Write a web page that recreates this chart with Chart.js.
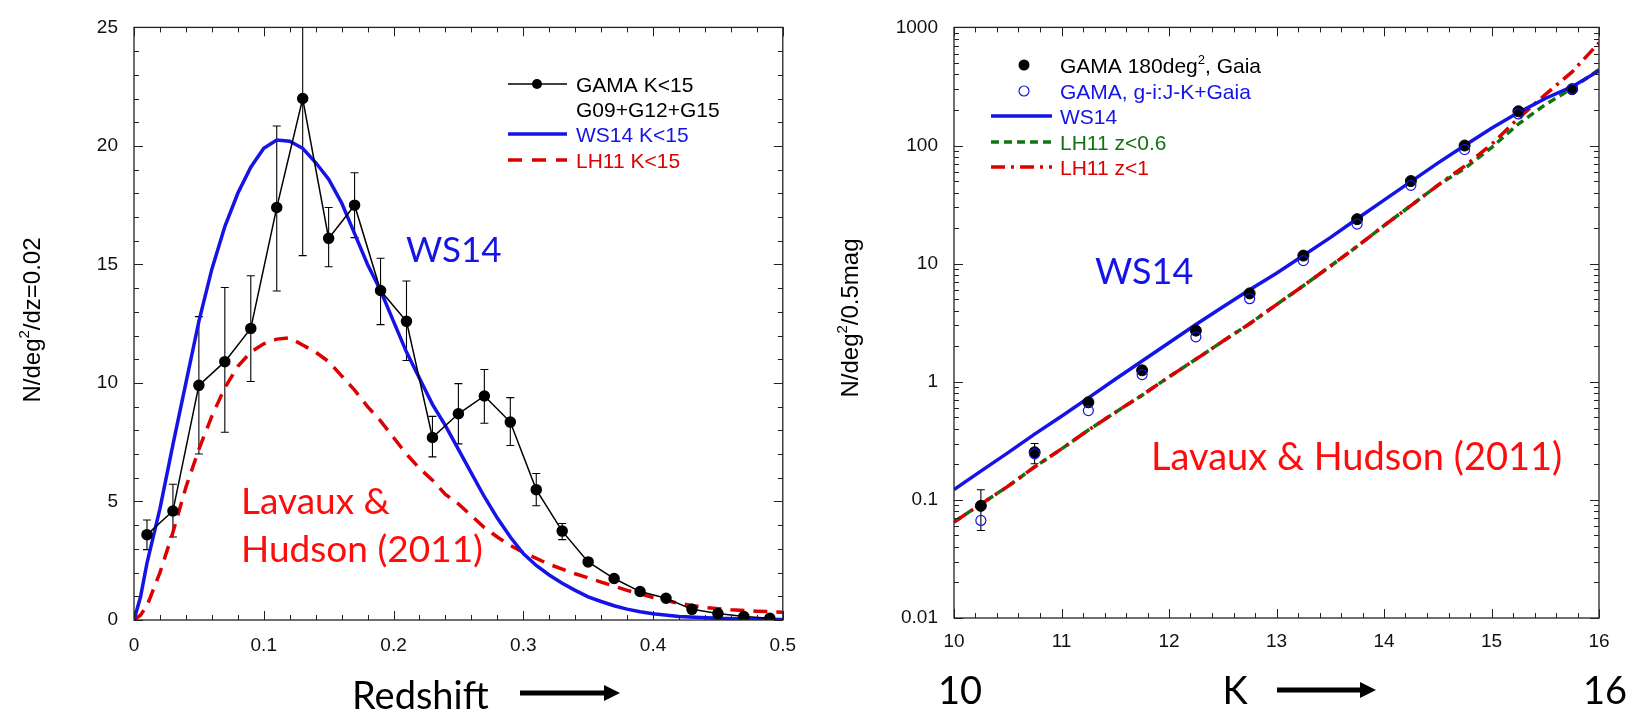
<!DOCTYPE html>
<html lang="en">
<head>
<meta charset="UTF-8">
<title>GAMA K-band redshift distribution and counts</title>
<script src="https://cdn.jsdelivr.net/npm/chart.js@4.4.1/dist/chart.umd.min.js"></script>
<style>
  body { margin: 0; background: #fff; width: 1634px; height: 713px; overflow: hidden; position: relative; }
  canvas { position: absolute; top: 0; }
  #zPanel { left: 0; }
  #kPanel { left: 810px; }
</style>
</head>
<body>
<canvas id="zPanel" width="810" height="713"></canvas>
<canvas id="kPanel" width="824" height="713"></canvas>
<script>
// ---------- left panel : N(z), K<15 ----------
const zGama   = [0.01,0.03,0.05,0.07,0.09,0.11,0.13,0.15,0.17,0.19,0.21,0.23,0.25,0.27,0.29,0.31,0.33,0.35,0.37,0.39,0.41,0.43,0.45,0.47,0.49];
const nGama   = [3.6,4.6,9.9,10.9,12.3,17.4,22.0,16.1,17.5,13.9,12.6,7.7,8.7,9.45,8.35,5.5,3.75,2.45,1.75,1.2,0.92,0.45,0.27,0.15,0.07];
const nGamaLo = [2.97,3.5,7.0,7.92,10.06,13.88,15.37,14.9,16.13,12.46,10.95,6.88,7.43,8.3,7.36,4.82,3.39,2.3,1.62,1.1,0.84,0.39,0.22,0.12,0.05];
const nGamaHi = [4.22,5.73,12.8,14.03,14.52,20.84,28.7,17.4,18.87,15.26,14.3,8.59,9.97,10.57,9.38,6.18,4.07,2.6,1.88,1.3,1.0,0.51,0.32,0.19,0.1];

const zWS14 = [0,0.005,0.01,0.02,0.03,0.04,0.05,0.06,0.07,0.08,0.09,0.10,0.11,0.12,0.13,0.14,0.15,0.16,0.17,0.18,0.19,0.20,0.21,0.22,0.23,0.24,0.25,0.26,0.27,0.28,0.29,0.30,0.31,0.32,0.33,0.34,0.35,0.36,0.37,0.38,0.39,0.40,0.42,0.45,0.48,0.50];
const nWS14 = [0,0.97,2.4,4.7,7.4,10.0,12.6,14.8,16.6,18.0,19.1,19.9,20.25,20.2,19.9,19.3,18.6,17.6,16.3,15.0,13.9,12.6,11.3,10.2,9.1,8.2,7.2,6.2,5.2,4.3,3.5,2.8,2.3,1.9,1.55,1.25,0.98,0.78,0.6,0.46,0.35,0.26,0.15,0.07,0.03,0.02];

const zLH11 = [0,0.005,0.01,0.02,0.03,0.04,0.05,0.06,0.07,0.08,0.09,0.10,0.11,0.12,0.13,0.14,0.15,0.16,0.17,0.18,0.19,0.20,0.21,0.22,0.23,0.24,0.25,0.26,0.27,0.28,0.29,0.30,0.32,0.34,0.36,0.38,0.40,0.42,0.44,0.46,0.48,0.50];
const nLH11 = [0,0.2,0.6,2.0,3.7,5.6,7.2,8.6,9.8,10.7,11.3,11.65,11.85,11.9,11.6,11.3,10.9,10.3,9.7,9.0,8.4,7.7,7.0,6.4,5.9,5.3,4.9,4.4,3.9,3.5,3.15,2.85,2.35,1.95,1.6,1.25,0.95,0.7,0.53,0.43,0.37,0.33];

const zTickLabels = [0, 0.1, 0.2, 0.3, 0.4, 0.5];
const nTickLabels = [0, 5, 10, 15, 20, 25];

// ---------- right panel : number counts ----------
const kGama     = [10.25,10.75,11.25,11.75,12.25,12.75,13.25,13.75,14.25,14.75,15.25,15.75];
const nGaia     = [0.089,0.253,0.67,1.25,2.71,5.6,11.7,23.8,50,100,195,300];
const nGaiaLo   = [0.055,0.202,0.62,1.17,2.55,5.35,11.3,23.2,49,98.5,192,296];
const nGaiaHi   = [0.122,0.30,0.72,1.35,2.88,5.85,12.1,24.4,51,101.5,198,304];
const nGaiaCol  = [0.067,0.245,0.57,1.15,2.4,5.05,10.6,21.6,46,92.5,185,300];

const kModel    = [10,10.25,10.5,10.75,11,11.25,11.5,11.75,12,12.25,12.5,12.75,13,13.25,13.5,13.75,14,14.25,14.5,14.75,15,15.25,15.5,15.75,16];
const nWS14k    = [0.122,0.175,0.25,0.36,0.51,0.73,1.05,1.5,2.14,3.05,4.3,6.0,8.3,11.7,16.6,24,34.5,49.5,71,100,140,190,250,315,430];
const nLH11z06  = [0.065,0.092,0.13,0.19,0.27,0.39,0.55,0.77,1.1,1.55,2.2,3.1,4.5,6.5,9.5,14,21,31,46,64,96,152,222,305,440];
const nLH11z1   = [0.065,0.092,0.13,0.19,0.27,0.39,0.55,0.77,1.1,1.55,2.2,3.1,4.5,6.5,9.5,14,21,31,46,67,102,170,270,420,740];

const kTickLabels   = [10, 11, 12, 13, 14, 15, 16];
const logTickLabels = [0.01, 0.1, 1, 10, 100, 1000];

// ---------- styles ----------
const BLUE = '#1414e6', RED = '#dc0000', TXT_RED = '#ff0d0d', GREEN = '#137313';
const SANS = '"Liberation Sans", Arial, sans-serif';
const AXIS_FONT = { family: SANS, size: 19 };
const LEG_SIZE = 21;
const BIG = 'Lato, "Open Sans", sans-serif';

const zip = (xs, ys) => xs.map((x, i) => ({ x: x, y: ys[i] }));
function steps(a, b, step) {
  const out = [];
  for (let v = a; v <= b + 1e-9; v += step) out.push(+v.toFixed(6));
  return out;
}
function logMinor(lo, hi) {
  const out = [];
  for (let d = lo; d < hi; d *= 10) for (let m = 2; m <= 9; m++) out.push(d * m);
  return out;
}

// error bars, drawn under the markers
const errorBars = {
  id: 'errorBars',
  beforeDatasetsDraw(chart) {
    const { ctx, chartArea: a, scales: { x, y } } = chart;
    ctx.save();
    ctx.beginPath(); ctx.rect(a.left, a.top, a.width, a.height); ctx.clip();
    ctx.strokeStyle = '#000'; ctx.lineWidth = 1.1;
    chart.data.datasets.forEach(ds => {
      if (!ds.errLo) return;
      ds.data.forEach((p, j) => {
        const px = x.getPixelForValue(p.x);
        const y1 = y.getPixelForValue(ds.errLo[j]), y2 = y.getPixelForValue(ds.errHi[j]);
        ctx.beginPath();
        ctx.moveTo(px, y1); ctx.lineTo(px, y2);
        ctx.moveTo(px - 4, y1); ctx.lineTo(px + 4, y1);
        ctx.moveTo(px - 4, y2); ctx.lineTo(px + 4, y2);
        ctx.stroke();
      });
    });
    ctx.restore();
  }
};

// closed frame with inward ticks on all four sides
function makeFrame(xMajor, xMinor, yMajor, yMinor) {
  return {
    id: 'frame',
    afterDatasetsDraw(chart) {
      const { ctx, chartArea: a, scales: { x, y } } = chart;
      ctx.save();
      ctx.strokeStyle = '#222'; ctx.lineWidth = 1.3;
      ctx.strokeRect(a.left, a.top, a.width, a.height);
      ctx.lineWidth = 1;
      ctx.beginPath();
      const xt = (vals, len) => vals.forEach(v => {
        const p = Math.round(x.getPixelForValue(v)) + 0.5;
        ctx.moveTo(p, a.bottom); ctx.lineTo(p, a.bottom - len);
        ctx.moveTo(p, a.top); ctx.lineTo(p, a.top + len);
      });
      const yt = (vals, len) => vals.forEach(v => {
        const p = Math.round(y.getPixelForValue(v)) + 0.5;
        ctx.moveTo(a.left, p); ctx.lineTo(a.left + len, p);
        ctx.moveTo(a.right, p); ctx.lineTo(a.right - len, p);
      });
      xt(xMajor, 9); xt(xMinor, 5); yt(yMajor, 9); yt(yMinor, 5);
      ctx.stroke();
      ctx.restore();
    }
  };
}

function text(ctx, s, x, y, font, color, align) {
  ctx.font = font; ctx.fillStyle = color;
  ctx.textAlign = align || 'left'; ctx.textBaseline = 'alphabetic';
  ctx.fillText(s, x, y);
}
// text with superscript pieces: parts = [[string, isSup], ...]
function supText(ctx, parts, x, y, size, color, align) {
  ctx.fillStyle = color; ctx.textAlign = 'left'; ctx.textBaseline = 'alphabetic';
  const fontOf = sup => (sup ? Math.round(size * 0.62) : size) + 'px ' + SANS;
  let total = 0;
  parts.forEach(([s, sup]) => { ctx.font = fontOf(sup); total += ctx.measureText(s).width; });
  let cx = align === 'center' ? x - total / 2 : x;
  parts.forEach(([s, sup]) => {
    ctx.font = fontOf(sup);
    ctx.fillText(s, cx, sup ? y - size * 0.45 : y);
    cx += ctx.measureText(s).width;
  });
}
function legLine(ctx, x1, x2, y, color, width, dash) {
  ctx.save();
  ctx.strokeStyle = color; ctx.lineWidth = width; ctx.setLineDash(dash || []);
  ctx.beginPath(); ctx.moveTo(x1, y); ctx.lineTo(x2, y); ctx.stroke();
  ctx.restore();
}
function dot(ctx, x, y, r, fill, stroke) {
  ctx.beginPath(); ctx.arc(x, y, r, 0, Math.PI * 2);
  if (fill) { ctx.fillStyle = fill; ctx.fill(); }
  if (stroke) { ctx.strokeStyle = stroke; ctx.lineWidth = 1.2; ctx.stroke(); }
}
function arrow(ctx, x1, x2, y) {
  ctx.save();
  ctx.strokeStyle = '#000'; ctx.fillStyle = '#000'; ctx.lineWidth = 5;
  ctx.beginPath(); ctx.moveTo(x1, y); ctx.lineTo(x2 - 12, y); ctx.stroke();
  ctx.beginPath(); ctx.moveTo(x2, y); ctx.lineTo(x2 - 16, y - 8); ctx.lineTo(x2 - 16, y + 8); ctx.closePath(); ctx.fill();
  ctx.restore();
}
function vSupText(ctx, parts, x, y, size) {
  ctx.save();
  ctx.translate(x, y); ctx.rotate(-Math.PI / 2);
  supText(ctx, parts, 0, 0, size, '#000', 'center');
  ctx.restore();
}

const zDecor = {
  id: 'zDecor',
  afterDraw(chart) {
    const ctx = chart.ctx;
    const lf = LEG_SIZE + 'px ' + SANS;
    ctx.save();
    legLine(ctx, 508, 567, 84, '#000', 1.3);
    dot(ctx, 537, 84, 5, '#000');
    text(ctx, 'GAMA K<15', 576, 92, lf, '#000');
    text(ctx, 'G09+G12+G15', 576, 117, lf, '#000');
    legLine(ctx, 508, 567, 134, BLUE, 3.5);
    text(ctx, 'WS14 K<15', 576, 142, lf, BLUE);
    legLine(ctx, 508, 567, 160, RED, 3.5, [14, 10]);
    text(ctx, 'LH11 K<15', 576, 168, lf, RED);

    text(ctx, 'WS14', 406, 262, '35px ' + BIG, BLUE);
    text(ctx, 'Lavaux &', 241, 514, '37px ' + BIG, TXT_RED);
    text(ctx, 'Hudson (2011)', 241, 562, '37px ' + BIG, TXT_RED);
    text(ctx, 'Redshift', 352, 709, '38px ' + BIG, '#000');
    arrow(ctx, 520, 620, 693);
    vSupText(ctx, [['N/deg', 0], ['2', 1], ['/dz=0.02', 0]], 40, 320, 24);
    ctx.restore();
  }
};

const kDecor = {
  id: 'kDecor',
  afterDraw(chart) {
    const ctx = chart.ctx;
    const lf = LEG_SIZE + 'px ' + SANS;
    ctx.save();
    dot(ctx, 214, 65, 5.5, '#000');
    supText(ctx, [['GAMA 180deg', 0], ['2', 1], [', Gaia', 0]], 250, 73, LEG_SIZE, '#000');
    dot(ctx, 214, 91, 5, null, BLUE);
    text(ctx, 'GAMA, g-i:J-K+Gaia', 250, 99, lf, BLUE);
    legLine(ctx, 181, 242, 116, BLUE, 3.5);
    text(ctx, 'WS14', 250, 124, lf, BLUE);
    legLine(ctx, 181, 242, 142, GREEN, 3.5, [8, 5]);
    text(ctx, 'LH11 z<0.6', 250, 150, lf, GREEN);
    legLine(ctx, 181, 242, 167, RED, 3.5, [14, 6, 3, 6]);
    text(ctx, 'LH11 z<1', 250, 175, lf, RED);

    text(ctx, 'WS14', 285, 284, '36px ' + BIG, BLUE);
    text(ctx, 'Lavaux & Hudson (2011)', 341, 470, '38px ' + BIG, TXT_RED);
    text(ctx, '10', 150, 704, '38px ' + BIG, '#000', 'center');
    text(ctx, 'K', 425, 704, '38px ' + BIG, '#000', 'center');
    arrow(ctx, 467, 566, 690);
    text(ctx, '16', 795, 704, '38px ' + BIG, '#000', 'center');
    vSupText(ctx, [['N/deg', 0], ['2', 1], ['/0.5mag', 0]], 48, 318, 24);
    ctx.restore();
  }
};

const common = {
  responsive: false,
  animation: false,
  events: [],
  plugins: { legend: { display: false }, tooltip: { enabled: false } }
};

new Chart(document.getElementById('zPanel'), {
  type: 'line',
  data: {
    datasets: [
      { label: 'GAMA K<15', data: zip(zGama, nGama), errLo: nGamaLo, errHi: nGamaHi,
        borderColor: '#000', backgroundColor: '#000', borderWidth: 1.5, pointRadius: 5, tension: 0 },
      { label: 'WS14 K<15', data: zip(zWS14, nWS14), borderColor: BLUE, borderWidth: 3.5, pointRadius: 0, tension: 0 },
      { label: 'LH11 K<15', data: zip(zLH11, nLH11), borderColor: RED, borderWidth: 3.5, borderDash: [14, 9], pointRadius: 0, tension: 0 }
    ]
  },
  options: Object.assign({}, common, {
    layout: { padding: { top: 20, right: 24, left: 0, bottom: 0 } },
    scales: {
      x: {
        type: 'linear', min: 0, max: 0.5,
        grid: { display: false, drawTicks: false }, border: { display: false },
        afterBuildTicks: s => { s.ticks = zTickLabels.map(v => ({ value: v })); },
        afterFit: s => { s.height = 93; },
        ticks: { font: AXIS_FONT, color: '#111', padding: 14, maxRotation: 0, callback: v => String(v) }
      },
      y: {
        min: 0, max: 25,
        grid: { display: false, drawTicks: false }, border: { display: false },
        afterBuildTicks: s => { s.ticks = nTickLabels.map(v => ({ value: v })); },
        afterFit: s => { s.width = 134; },
        ticks: { font: AXIS_FONT, color: '#111', padding: 16, callback: v => String(v) }
      }
    }
  }),
  plugins: [errorBars, makeFrame(zTickLabels, steps(0, 0.5, 0.02), nTickLabels, steps(0, 25, 1)), zDecor]
});

new Chart(document.getElementById('kPanel'), {
  type: 'line',
  data: {
    datasets: [
      { label: 'GAMA, g-i:J-K+Gaia', data: zip(kGama, nGaiaCol), showLine: false,
        pointRadius: 5, pointBorderWidth: 1.2, pointBackgroundColor: 'rgba(0,0,0,0)', pointBorderColor: BLUE },
      { label: 'GAMA 180deg2, Gaia', data: zip(kGama, nGaia), showLine: false, errLo: nGaiaLo, errHi: nGaiaHi,
        pointRadius: 5.5, pointBackgroundColor: '#000', pointBorderColor: '#000' },
      { label: 'WS14', data: zip(kModel, nWS14k), borderColor: BLUE, borderWidth: 3.5, pointRadius: 0, tension: 0 },
      { label: 'LH11 z<1', data: zip(kModel, nLH11z1), borderColor: RED, borderWidth: 3.5, borderDash: [14, 6, 3, 6], pointRadius: 0, tension: 0 },
      { label: 'LH11 z<0.6', data: zip(kModel, nLH11z06), borderColor: GREEN, borderWidth: 3.5, borderDash: [8, 5], pointRadius: 0, tension: 0 }
    ]
  },
  options: Object.assign({}, common, {
    layout: { padding: { top: 20, right: 35, left: 0, bottom: 0 } },
    scales: {
      x: {
        type: 'linear', min: 10, max: 16,
        grid: { display: false, drawTicks: false }, border: { display: false },
        afterBuildTicks: s => { s.ticks = kTickLabels.map(v => ({ value: v })); },
        afterFit: s => { s.height = 95; },
        ticks: { font: AXIS_FONT, color: '#111', padding: 12, maxRotation: 0, callback: v => String(v) }
      },
      y: {
        type: 'logarithmic', min: 0.01, max: 1000,
        grid: { display: false, drawTicks: false }, border: { display: false },
        afterBuildTicks: s => { s.ticks = logTickLabels.map(v => ({ value: v })); },
        afterFit: s => { s.width = 144; },
        ticks: { font: AXIS_FONT, color: '#111', padding: 16, callback: v => String(v) }
      }
    }
  }),
  plugins: [errorBars, makeFrame(kTickLabels, steps(10, 16, 0.2), logTickLabels, logMinor(0.01, 1000)), kDecor]
});
</script>
</body>
</html>
